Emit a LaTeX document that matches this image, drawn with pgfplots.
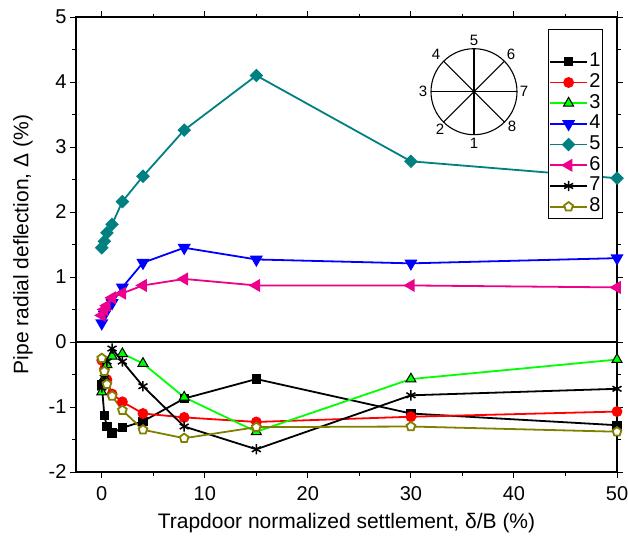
\documentclass[border=0pt]{standalone}
\usepackage{fontspec}
\setmainfont{Liberation Sans}
\usepackage{pgfplots}
\usepackage{pgfplotstable}
\pgfplotsset{compat=1.18}

\definecolor{cteal}{RGB}{0,128,128}
\definecolor{colive}{RGB}{128,128,0}
\definecolor{cgreen}{RGB}{0,255,0}

% radial deflection of the pipe at eight positions vs. trapdoor settlement
\pgfplotstableread{
x     p1     p2     p3     p4    p5    p6    p7     p8
0     -0.65  -0.28  -0.77  0.29  1.45  0.41  -0.70  -0.25
0.25  -1.13  -0.42  -0.55  0.42  1.55  0.50  -0.55  -0.45
0.5   -1.30  -0.58  -0.35  0.50  1.68  0.56  -0.30  -0.65
1     -1.40  -0.80  -0.22  0.60  1.81  0.68  -0.10  -0.83
2     -1.32  -0.92  -0.18  0.84  2.16  0.75  -0.30  -1.05
4     -1.22  -1.10  -0.33  1.22  2.55  0.87  -0.68  -1.35
8     -0.87  -1.16  -0.85  1.45  3.26  0.97  -1.30  -1.48
15    -0.57  -1.23  -1.38  1.27  4.10  0.87  -1.65  -1.31
30    -1.10  -1.15  -0.57  1.21  2.78  0.87  -0.82  -1.30
50    -1.28  -1.07  -0.27  1.29  2.52  0.84  -0.72  -1.38
}\deflection

\begin{document}
\begin{tikzpicture}
\begin{axis}[
  at={(0pt,0pt)}, anchor=south west,
  scale only axis, width=541pt, height=455pt,
  xmin=-2.5, xmax=50, ymin=-2, ymax=5,
  xtick={0,10,20,30,40,50}, xticklabels={0,10,20,30,40,50},
  ytick={-2,-1,0,1,2,3,4,5}, yticklabels={-2,-1,0,1,2,3,4,5},
  minor x tick num=1, minor y tick num=1,
  tick align=outside,
  major tick length=6pt, minor tick length=3.5pt,
  tick style={black, line width=1pt},
  axis line style={line width=1.2pt},
  ticklabel style={font=\fontsize{20}{24}\selectfont},
  xticklabel style={yshift=-5pt},
  label style={font=\fontsize{21}{25}\selectfont},
  xlabel={Trapdoor normalized settlement, δ/B (\%)},
  ylabel={Pipe radial deflection, Δ (\%)},
  xlabel style={yshift=-6pt},
  ylabel style={yshift=9pt},
  every axis plot/.append style={line width=1.8pt},
  legend style={at={(0.872,0.973)}, anchor=north west,
    draw=black, line width=0.9pt, fill=white,
    font=\fontsize{20}{24}\selectfont,
    inner xsep=1pt, inner ysep=1pt, row sep=0pt,
    nodes={inner sep=1.35pt, text height=14pt, text depth=4pt}},
  legend cell align=left,
  legend image code/.code={%
    \draw[mark repeat=2,mark phase=2] plot coordinates {(0cm,0cm)(0.65cm,0cm)(1.3cm,0cm)};},
]
\addplot[black, line width=1.8pt, forget plot] coordinates {(-2.5,0) (50,0)};

% blank first row gives the legend its top margin
\addlegendimage{empty legend}
\addlegendentry{}

\addplot[black, mark=square*, mark size=3.7pt, mark options={fill=black}] table[x=x,y=p1] {\deflection};
\addlegendentry{1}
\addplot[red, mark=*, mark size=4.5pt, mark options={fill=red}] table[x=x,y=p2] {\deflection};
\addlegendentry{2}
\addplot[cgreen, mark=triangle*, mark size=5.8pt, mark options={fill=cgreen, draw=black, line width=1pt}] table[x=x,y=p3] {\deflection};
\addlegendentry{3}
\addplot[blue, mark=triangle*, mark size=5.8pt, mark options={fill=blue, rotate=180}] table[x=x,y=p4] {\deflection};
\addlegendentry{4}
\addplot[cteal, mark=square*, mark size=3.9pt, mark options={fill=cteal, rotate=45}] table[x=x,y=p5] {\deflection};
\addlegendentry{5}
\addplot[magenta, mark=triangle*, mark size=5.8pt, mark options={fill=magenta, rotate=90}] table[x=x,y=p6] {\deflection};
\addlegendentry{6}
\addplot[black, mark=asterisk, mark size=5.2pt, mark options={line width=1.5pt}] table[x=x,y=p7] {\deflection};
\addlegendentry{7}
\addplot[colive, mark=pentagon*, mark size=4.6pt, mark options={fill=white, draw=colive, line width=1.8pt}] table[x=x,y=p8] {\deflection};
\addlegendentry{8}
\end{axis}

% cross-section of the pipe with the numbered gauge positions
\begin{scope}[shift={(398pt,380.3pt)}, line width=1.1pt,
  every node/.style={font=\fontsize{15}{17}\selectfont, inner sep=0pt}]
  \draw (0,0) circle (43pt);
  \draw (0,43pt) -- (0,-43pt);
  \draw (-43pt,0) -- (43pt,0);
  \draw (135:43pt) -- (-45:43pt);
  \draw (45:43pt) -- (225:43pt);
  \node at (0,51pt) {5};
  \node at (0,-52pt) {1};
  \node at (-51pt,0) {3};
  \node at (50pt,0) {7};
  \node at (-38pt,37pt) {4};
  \node at (37pt,37pt) {6};
  \node at (-34pt,-38pt) {2};
  \node at (38pt,-35pt) {8};
\end{scope}

\pgfresetboundingbox
\path (-76pt,-75pt) rectangle (552pt,472pt);
\end{tikzpicture}
\end{document}
